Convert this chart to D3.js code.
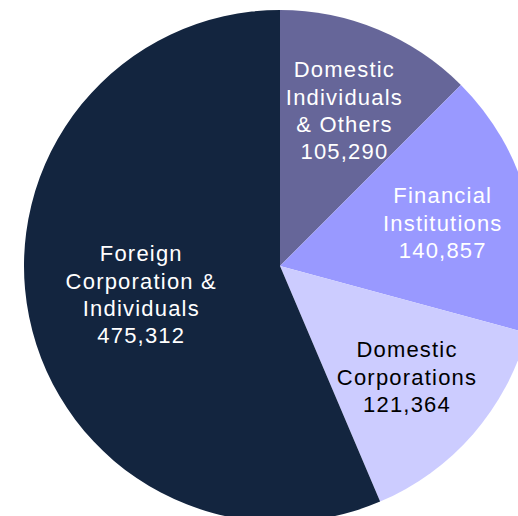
<!DOCTYPE html>
<html>
<head>
<meta charset="utf-8">
<script src="https://cdn.jsdelivr.net/npm/d3@7"></script>
<style>
  body { margin: 0; background: #fff; }
  svg { display: block; }
  .lbl { font-family: "Liberation Sans", Arial, sans-serif; font-size: 22px; letter-spacing: 1.2px; }
</style>
</head>
<body>
<svg id="chart"></svg>
<script>
// chart data
var categories = [
    ["Domestic", "Individuals", "& Others"],
    ["Financial", "Institutions"],
    ["Domestic", "Corporations"],
    ["Foreign", "Corporation &", "Individuals"]
];
var values = [105290, 140857, 121364, 475312];
var colors = ["#666699", "#9999FF", "#CCCCFF", "#13253F"];
var textColors = ["#ffffff", "#ffffff", "#000000", "#ffffff"];

var width = 518;
var height = 516;
var cx = 280, cy = 266, radius = 256;

var svg = d3.select("#chart")
    .attr("width", width)
    .attr("height", height);

var g = svg.append("g")
    .attr("transform", "translate(" + cx + "," + cy + ")");

var pie = d3.pie().sort(null).value(d => d);
var arcs = pie(values);

var arc = d3.arc().innerRadius(0).outerRadius(radius);

g.selectAll("path.slice")
    .data(arcs)
    .enter().append("path")
    .attr("class", "slice")
    .attr("d", arc)
    .attr("fill", (d, i) => colors[i]);

// label arcs: the big slice gets its label pulled in toward the center
var labelArc = d3.arc().innerRadius(radius * 0.658).outerRadius(radius * 0.658);
var bigLabelArc = d3.arc().innerRadius(radius * 0.553).outerRadius(radius * 0.553);

var fmt = d3.format(",");
var lineH = 27.3;
var capH = 16;

arcs.forEach(function(d, i) {
    var lines = categories[i].concat([fmt(values[i])]);
    var p = (d.endAngle - d.startAngle > Math.PI ? bigLabelArc : labelArc).centroid(d);
    var t = g.append("text")
        .attr("class", "lbl")
        .attr("text-anchor", "middle")
        .attr("fill", textColors[i])
        .attr("transform", "translate(" + p[0] + "," + p[1] + ")");
    var y0 = -(lines.length - 1) * lineH / 2 + capH / 2;
    lines.forEach(function(s, j) {
        t.append("tspan")
            .attr("x", 0)
            .attr("y", y0 + j * lineH)
            .text(s);
    });
});
</script>
</body>
</html>
